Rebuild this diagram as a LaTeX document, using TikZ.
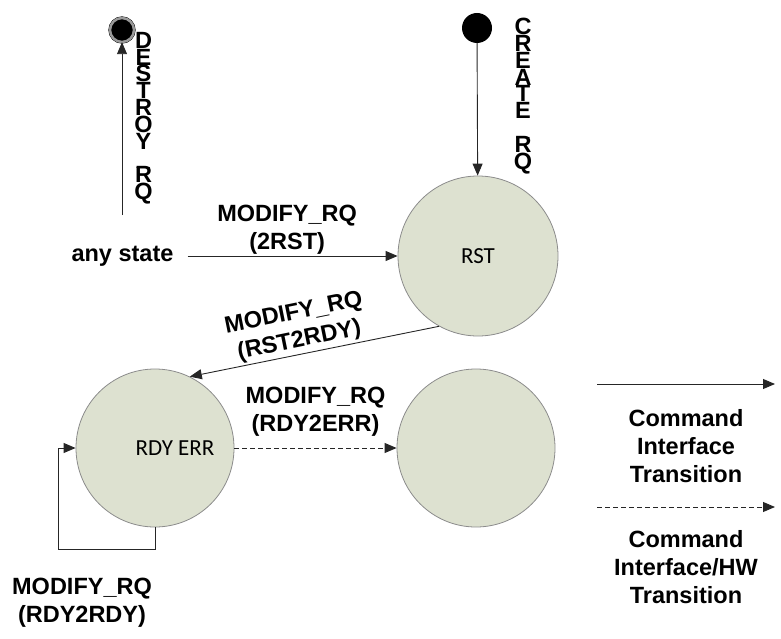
\documentclass[tikz,border=0pt]{standalone}
\usepackage{fontspec}
\setmainfont{Liberation Sans}
\newfontfamily\calfont{Carlito}
\usetikzlibrary{arrows.meta,positioning}
\definecolor{stfill}{RGB}{221,225,208}
\newcommand\vstack{\bfseries\fontsize{23.5}{16.8}\selectfont\lineskiplimit=-50pt\relax}

\begin{document}
\begin{tikzpicture}[
  x=1pt, y=-1pt,
  sttext/.style={font=\calfont\fontsize{23}{27}\selectfont},
  state/.style={draw=black!45, line width=0.8pt, circle, fill=stfill,
                minimum size=160pt, inner sep=0pt, sttext},
  lbl/.style={align=center, inner sep=1pt,
              font=\bfseries\fontsize{23.5}{28}\selectfont},
  vlbl/.style={align=center, inner sep=0pt, anchor=north, font=\vstack},
  arr/.style={-{Triangle[length=12pt, width=10pt]}, line width=0.9pt, draw=black!85},
  dsh/.style={arr, dash pattern=on 5pt off 3pt},
]
\useasboundingbox (0,0) rectangle (781,639);

\node[state] (rst) at (478,256) {RST};
\node[state, minimum size=158pt,
      label={[xshift=20pt, sttext]center:RDY ERR}] (rdy) at (155,448) {};
\node[state, minimum size=158pt] (err) at (476,448) {};
\node[circle, fill=black, minimum size=30pt, inner sep=0pt] (start) at (477,28) {};
\node[circle, fill=black, draw=black, double=black!40, double distance=2.5pt,
      minimum size=24pt, inner sep=0pt] (stop) at (122,30) {};
\node[vlbl] (crq) at (523,18) {C\\R\\E\\A\\T\\E\\\_\\R\\Q};
\node[vlbl] (drq) at (143.5,32) {D\\E\\S\\T\\R\\O\\Y\\\_\\R\\Q};
\node[lbl, inner sep=3pt] (any) at (122.5,256) {any state};
\coordinate (dq) at (122,215);
\coordinate (loop) at (58,549);

\draw[arr] (start) -- (rst);
\draw[arr] (dq) -- (stop);
\draw[arr, shorten <=11pt] (any) -- node[lbl, above=0pt] {MODIFY\_RQ\\(2RST)} (rst);
\draw[arr] (rst.241) -- node[lbl, sloped, above=1pt, pos=0.55] {MODIFY\_RQ\\(RST2RDY)} (rdy.64);
\draw[dsh] (rdy) -- node[lbl, above=10pt] {MODIFY\_RQ\\(RDY2ERR)} (err);
\draw[arr] (rdy.south) |- (loop) |- (rdy.west);
\node[lbl] (rr) at (82,603) {MODIFY\_RQ\\(RDY2RDY)};

\coordinate (s1) at (597,384);
\coordinate (s2) at (775,384);
\coordinate (sm) at (686,384);
\coordinate (d1) at (597,507);
\coordinate (d2) at (775,507);
\coordinate (dm) at (686,507);
\draw[arr] (s1) -- (s2);
\draw[dsh] (d1) -- (d2);
\node[lbl, below=24pt of sm] (leg1) {Command\\Interface\\Transition};
\node[lbl, below=22pt of dm] (leg2) {Command\\Interface/HW\\Transition};
\end{tikzpicture}
\end{document}
